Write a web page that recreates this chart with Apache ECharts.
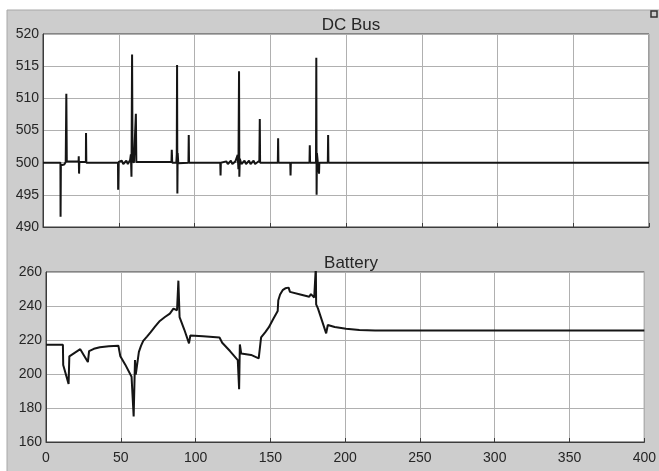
<!DOCTYPE html>
<html>
<head>
<meta charset="utf-8">
<script src="https://cdn.jsdelivr.net/npm/echarts@6/dist/echarts.min.js"></script>
<style>
  html, body {margin: 0; padding: 0; background: #fff;}
  #chart {width: 659px; height: 471px;}
</style>
</head>
<body>
<div id="chart"></div>
<script>
// DC bus voltage
const busTime = [
  0, 11.5, 11.6, 11.8, 14.0, 15.0, 15.4, 15.7, 23.5, 23.6, 23.8, 24.0, 28.3, 28.4, 28.6,
  49.5, 49.6, 49.9, 52, 53, 55, 56, 57.5, 58.0, 58.4, 58.8, 59.1, 60.0, 61.2, 61.3, 61.6,
  84.8, 85.0, 85.3, 88.0, 88.3, 88.5, 88.7, 88.9, 89.3, 96.0, 96.2, 96.4,
  117.0, 117.2, 117.4, 121, 122, 124, 125, 127, 128.5, 129.0, 129.4, 129.6, 129.9,
  131, 133, 134, 136, 137, 139, 140, 142.8, 143.1, 143.3,
  155.0, 155.2, 155.4, 163.2, 163.4, 163.6, 175.9, 176.1, 176.3,
  180.2, 180.4, 180.6, 180.8, 181.5, 182.2, 182.4, 188.0, 188.2, 188.4, 400
];
const busValue = [
  500, 500, 491.6, 499.6, 499.7, 500.1, 510.7, 500.2, 500.2, 501.0, 498.3, 500.1, 500.1, 504.6, 500.0,
  500.0, 495.8, 500.1, 500.3, 499.8, 500.3, 499.8, 500.4, 501.3, 497.8, 516.8, 500.4, 500.0, 500.0, 507.6, 500.1,
  500.1, 502.0, 500.0, 500.0, 501.3, 515.2, 495.2, 501.5, 499.9, 500.0, 504.3, 500.0,
  500.0, 498.0, 500.0, 500.2, 499.8, 500.3, 499.8, 500.2, 501.2, 499.0, 514.2, 497.8, 500.6,
  499.8, 500.3, 499.8, 500.3, 499.8, 500.3, 499.8, 500.3, 506.8, 500.0,
  500.0, 503.8, 500.0, 500.0, 498.0, 500.0, 500.0, 502.7, 500.0,
  500.0, 516.3, 495.0, 501.5, 499.8, 498.3, 500.0, 500.0, 504.3, 500.0, 500
];

// Battery voltage
const batTime = [
  0, 11.3, 11.5, 12.4, 15.1, 15.6, 22.9, 28.0, 28.8, 32.0, 36.0, 42.0, 48.4, 49.5, 49.7,
  53.0, 57.2, 58.6, 58.8, 59.5, 60.0, 61.2, 62.1, 63.5, 65.0, 67.5, 70.0, 73.0, 76.1, 79.5,
  82.8, 85.2, 87.6, 88.5, 89.3, 92.5, 95.6, 96.5, 105.0, 116.0, 117.8, 123.0, 128.2,
  129.1, 129.6, 130.5, 137.1, 142.2, 143.1, 143.8, 146.5, 148.9, 152.0, 154.9, 155.3,
  156.5, 158.2, 160.0, 162.2, 163.1, 170.0, 176.0, 177.1, 179.3, 180.2, 180.4, 180.6,
  181.8, 182.9, 187.3, 188.4, 193.0, 200.6, 209.5, 220, 400
];
const batValue = [
  217.2, 217.2, 205.3, 204.3, 194.2, 210.4, 214.6, 207.0, 213.4, 214.8, 215.7, 216.3, 216.6, 216.5, 210.4,
  205.5, 198.4, 175.0, 176.0, 208.2, 199.6, 199.6, 213.0, 216.5, 219.5, 222.0, 224.6, 228.0, 231.2, 233.5,
  235.5, 238.5, 237.5, 254.9, 233.5, 226.0, 218.0, 222.7, 222.2, 221.5, 218.4, 213.5, 208.2,
  191.0, 217.4, 212.1, 211.2, 209.2, 208.8, 221.5, 224.5, 227.4, 232.5, 237.1, 243.4,
  246.8, 249.3, 250.4, 250.8, 248.3, 246.8, 245.4, 247.0, 245.0, 244.5, 263, 241.0,
  238.6, 237.6, 223.9, 228.8, 227.6, 226.6, 225.9, 225.6, 225.6
];

const xTicks = [0, 50, 100, 150, 200, 250, 300, 350, 400];

const chart = echarts.init(document.getElementById('chart'));

const pair = (t, v) => t.map((x, i) => [x, v[i]]);
const fontFamily = 'Liberation Sans, Arial, sans-serif';
const labelFont = {color: '#262626', fontSize: 14, fontFamily};
const gridLine = {show: true, lineStyle: {color: '#b0b0b0', width: 1}};
const borderLine = {show: true, lineStyle: {color: '#3c3c3c', width: 1}};

const xAxisBase = {
  type: 'value',
  min: 0,
  max: 400,
  interval: 50,
  axisLine: borderLine,
  axisTick: {show: true, inside: true, length: 4, lineStyle: {color: '#3c3c3c'}},
  splitLine: gridLine,
};
const yAxisBase = {
  type: 'value',
  axisLine: borderLine,
  axisTick: {show: false},
  splitLine: gridLine,
  axisLabel: {...labelFont, margin: 4},
};

const option = {
  backgroundColor: '#ffffff',
  animation: false,
  graphic: [
    {type: 'rect', z: -10, shape: {x: 7, y: 10, width: 660, height: 470},
      style: {fill: '#cdcdcd', stroke: '#a8a8a8', lineWidth: 1}},
    {type: 'rect', z: 10, shape: {x: 651, y: 11, width: 6, height: 6},
      style: {fill: 'none', stroke: '#333', lineWidth: 1.5}},
  ],
  title: [
    {text: 'DC Bus', left: 346, top: 12, textAlign: 'center',
      textStyle: {color: '#262626', fontSize: 17, fontWeight: 'normal', fontFamily}},
    {text: 'Battery', left: 346, top: 250, textAlign: 'center',
      textStyle: {color: '#262626', fontSize: 17, fontWeight: 'normal', fontFamily}},
  ],
  grid: [
    {left: 43, top: 34, width: 606, height: 193, show: true, backgroundColor: '#ffffff', borderColor: '#3c3c3c', borderWidth: 1},
    {left: 46, top: 272, width: 600, height: 170, show: true, backgroundColor: '#ffffff', borderColor: '#3c3c3c', borderWidth: 1},
  ],
  xAxis: [
    {...xAxisBase, gridIndex: 0, axisLabel: {show: false}},
    {...xAxisBase, gridIndex: 1, axisLabel: {...labelFont, margin: 9,
      formatter: (v) => (xTicks.includes(v) ? String(v) : '')}},
  ],
  yAxis: [
    {...yAxisBase, gridIndex: 0, min: 490, max: 520, interval: 5},
    {...yAxisBase, gridIndex: 1, min: 160, max: 260, interval: 20},
  ],
  series: [
    {
      name: 'DC Bus',
      type: 'line',
      xAxisIndex: 0,
      yAxisIndex: 0,
      showSymbol: false,
      clip: true,
      lineStyle: {color: '#151515', width: 2},
      data: pair(busTime, busValue),
    },
    {
      name: 'Battery',
      type: 'line',
      xAxisIndex: 1,
      yAxisIndex: 1,
      showSymbol: false,
      clip: true,
      lineStyle: {color: '#151515', width: 2},
      data: pair(batTime, batValue),
    },
  ],
};

chart.setOption(option);
</script>
</body>
</html>
